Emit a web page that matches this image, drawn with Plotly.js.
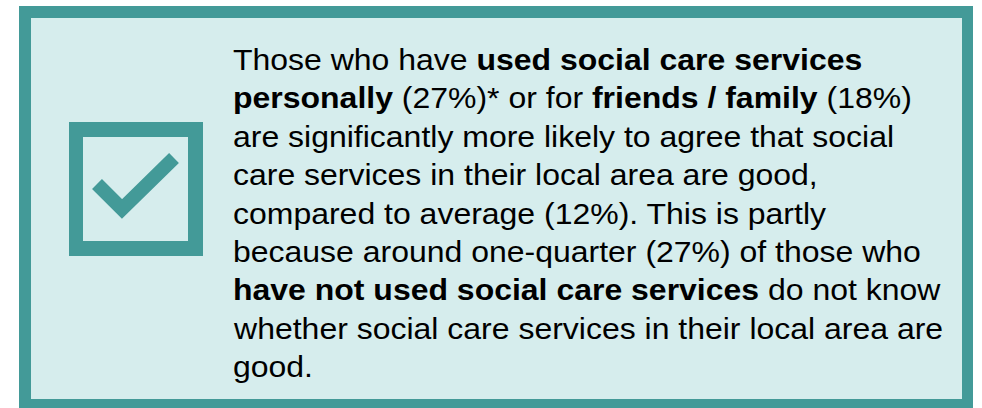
<!DOCTYPE html>
<html>
<head>
<meta charset="utf-8">
<script src="https://cdn.plot.ly/plotly-3.0.1.min.js"></script>
<style>
html,body{margin:0;padding:0;background:#ffffff;}
#chart{width:982px;height:408px;}
/* reference text is set slightly wider than standard Arial metrics */
#chart .annotation-text{transform-box:fill-box;transform-origin:0 50%;transform:scaleX(1.066);}
</style>
</head>
<body>
<div id="chart"></div>
<script>
// Values shown in the text
const groups = ["used social care services personally", "friends / family", "average", "have not used social care services"];
const pctAgree = [27, 18, 12];          // % agreeing local services are good
const pctDontKnowNotUsed = 27;          // % of non-users who don't know

const lines = [
  "Those who have <b>used social care services</b>",
  "<b>personally</b> (" + pctAgree[0] + "%)* or for <b>friends / family</b> (" + pctAgree[1] + "%)",
  "are significantly more likely to agree that social",
  "care services in their local area are good,",
  "compared to average (" + pctAgree[2] + "%). This is partly",
  "because around one-quarter (" + pctDontKnowNotUsed + "%) of those who",
  "<b>have not used social care services</b> do not know",
  "whether social care services in their local area are",
  "good."
];

const teal = "#439A98";
const light = "#D6EDED";

const annotations = lines.map((t, i) => ({
  xref: "x", yref: "y",
  x: 231, y: 59.5 + i * 38.4,
  xanchor: "left", yanchor: "middle",
  text: t, showarrow: false, align: "left",
  font: {family: "Liberation Sans", size: 30, color: "#000000"}
}));

const shapes = [
  {type: "rect", xref: "x", yref: "y", x0: 19, x1: 973, y0: 6, y1: 420, fillcolor: teal, line: {width: 0}, layer: "below"},
  {type: "rect", xref: "x", yref: "y", x0: 31, x1: 962, y0: 18, y1: 399, fillcolor: light, line: {width: 0}, layer: "below"},
  {type: "rect", xref: "x", yref: "y", x0: 69, x1: 203, y0: 122, y1: 256, fillcolor: teal, line: {width: 0}},
  {type: "rect", xref: "x", yref: "y", x0: 83, x1: 188, y0: 137, y1: 241, fillcolor: light, line: {width: 0}},
  {type: "path", xref: "x", yref: "y", path: "M 97 184 L 122 209 L 174 158", line: {color: teal, width: 14}}
];

const layout = {
  width: 982, height: 408,
  margin: {l: 0, r: 0, t: 0, b: 0},
  paper_bgcolor: "#ffffff", plot_bgcolor: "#ffffff",
  xaxis: {range: [0, 982], visible: false, fixedrange: true},
  yaxis: {range: [408, 0], visible: false, fixedrange: true},
  shapes: shapes,
  annotations: annotations,
  showlegend: false
};

Plotly.newPlot("chart", [], layout, {displayModeBar: false, staticPlot: true});
</script>
</body>
</html>
